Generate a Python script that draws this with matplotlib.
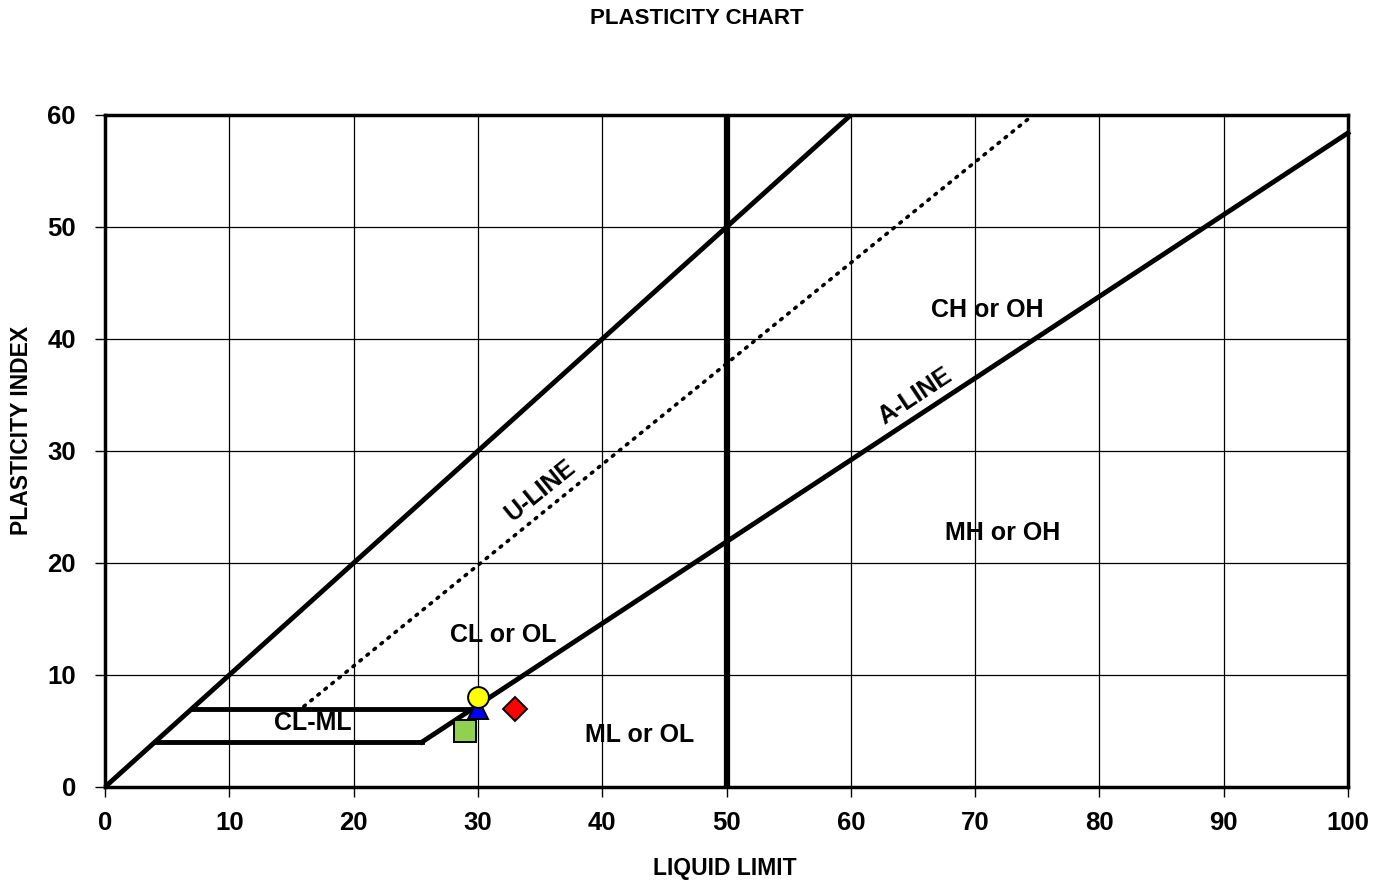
import matplotlib
matplotlib.use("Agg")
import matplotlib.pyplot as plt
import numpy as np
from matplotlib import font_manager

names = {f.name for f in font_manager.fontManager.ttflist}
FAM = ["Liberation Sans Narrow", "DejaVu Sans"] if "Liberation Sans Narrow" in names else ["Liberation Sans", "DejaVu Sans"]
plt.rcParams['font.family'] = FAM

# ---- data ----
title = "PLASTICITY CHART"
x_label = "LIQUID LIMIT"
y_label = "PLASTICITY INDEX"
x_ticks = [0, 10, 20, 30, 40, 50, 60, 70, 80, 90, 100]
y_ticks = [0, 10, 20, 30, 40, 50, 60]

# boundary lines (LL, PI)
line_1to1_x = [0, 60]
line_1to1_y = [0, 60]
u_line_x = [16, 74.67]
u_line_y = [7.2, 60]
a_line_x = [25.48, 100]
a_line_y = [4, 58.4]
clml_top_x = [7, 29.59]
clml_top_y = [7, 7]
clml_bot_x = [4, 25.48]
clml_bot_y = [4, 4]
ll50_x = [50, 50]
ll50_y = [0, 60]

# samples
samples = [
    {"x": 29, "y": 5, "marker": "s", "color": "#92D050", "size": 16},
    {"x": 30, "y": 7, "marker": "^", "color": "#0000FF", "size": 15},
    {"x": 30, "y": 8, "marker": "o", "color": "#FFFF00", "size": 15},
    {"x": 33, "y": 7, "marker": "D", "color": "#FF0000", "size": 12},
]

regions = [
    ("CH or OH", 71.0, 42.6),
    ("MH or OH", 72.2, 22.7),
    ("CL or OL", 32.0, 13.6),
    ("ML or OL", 43.0, 4.6),
    ("CL-ML", 16.7, 5.7),
]

fig = plt.figure(figsize=(13.91, 8.84), dpi=100)
ax = fig.add_axes([105/1391, 1-787/884, (1348-105)/1391, (787-115)/884])
ax.set_xlim(0, 100)
ax.set_ylim(0, 60)
ax.set_xticks(x_ticks)
ax.set_yticks(y_ticks)
ax.grid(True, color="black", linewidth=0.9)
ax.set_axisbelow(True)
for s in ax.spines.values():
    s.set_linewidth(2.5)
ax.tick_params(direction="out", length=7, width=1, labelsize=18.5)
ax.tick_params(axis="x", pad=10)
ax.tick_params(axis="y", pad=14)
for lab in ax.get_xticklabels() + ax.get_yticklabels():
    lab.set_fontweight("bold")

lw = 3.5
ax.plot(line_1to1_x, line_1to1_y, color="black", lw=lw, solid_capstyle="butt", clip_on=False)
ax.plot(u_line_x, u_line_y, color="black", lw=2.6, linestyle=(0, (0.5, 2.0)), dash_capstyle="round")
ax.plot(a_line_x, a_line_y, color="black", lw=lw, clip_on=False)
ax.plot(clml_top_x, clml_top_y, color="black", lw=lw)
ax.plot(clml_bot_x, clml_bot_y, color="black", lw=lw)
ax.plot(ll50_x, ll50_y, color="black", lw=4.5)

for s in samples:
    ax.plot(s["x"], s["y"], marker=s["marker"], color=s["color"], markersize=s["size"],
            markeredgecolor="black", markeredgewidth=1.4, linestyle="none", zorder=5)

for txt, x, y in regions:
    ax.text(x, y, txt, ha="center", va="center", fontsize=18, fontweight="bold")

ax.text(35.0, 26.5, "U-LINE", ha="center", va="center", fontsize=18, fontweight="bold", rotation=39)
ax.text(65.2, 34.9, "A-LINE", ha="center", va="center", fontsize=18, fontweight="bold", rotation=33.5)

fig.text(697/1391, 1-18/884, title, ha="center", va="center", fontsize=16, fontweight="bold")
fig.text(725/1391, 1-868/884, x_label, ha="center", va="center", fontsize=16.5, fontweight="bold")
fig.text(22/1391, 1-430/884, y_label, ha="center", va="center", fontsize=16.5, fontweight="bold", rotation=90)

fig.savefig("out.png", dpi=100)
